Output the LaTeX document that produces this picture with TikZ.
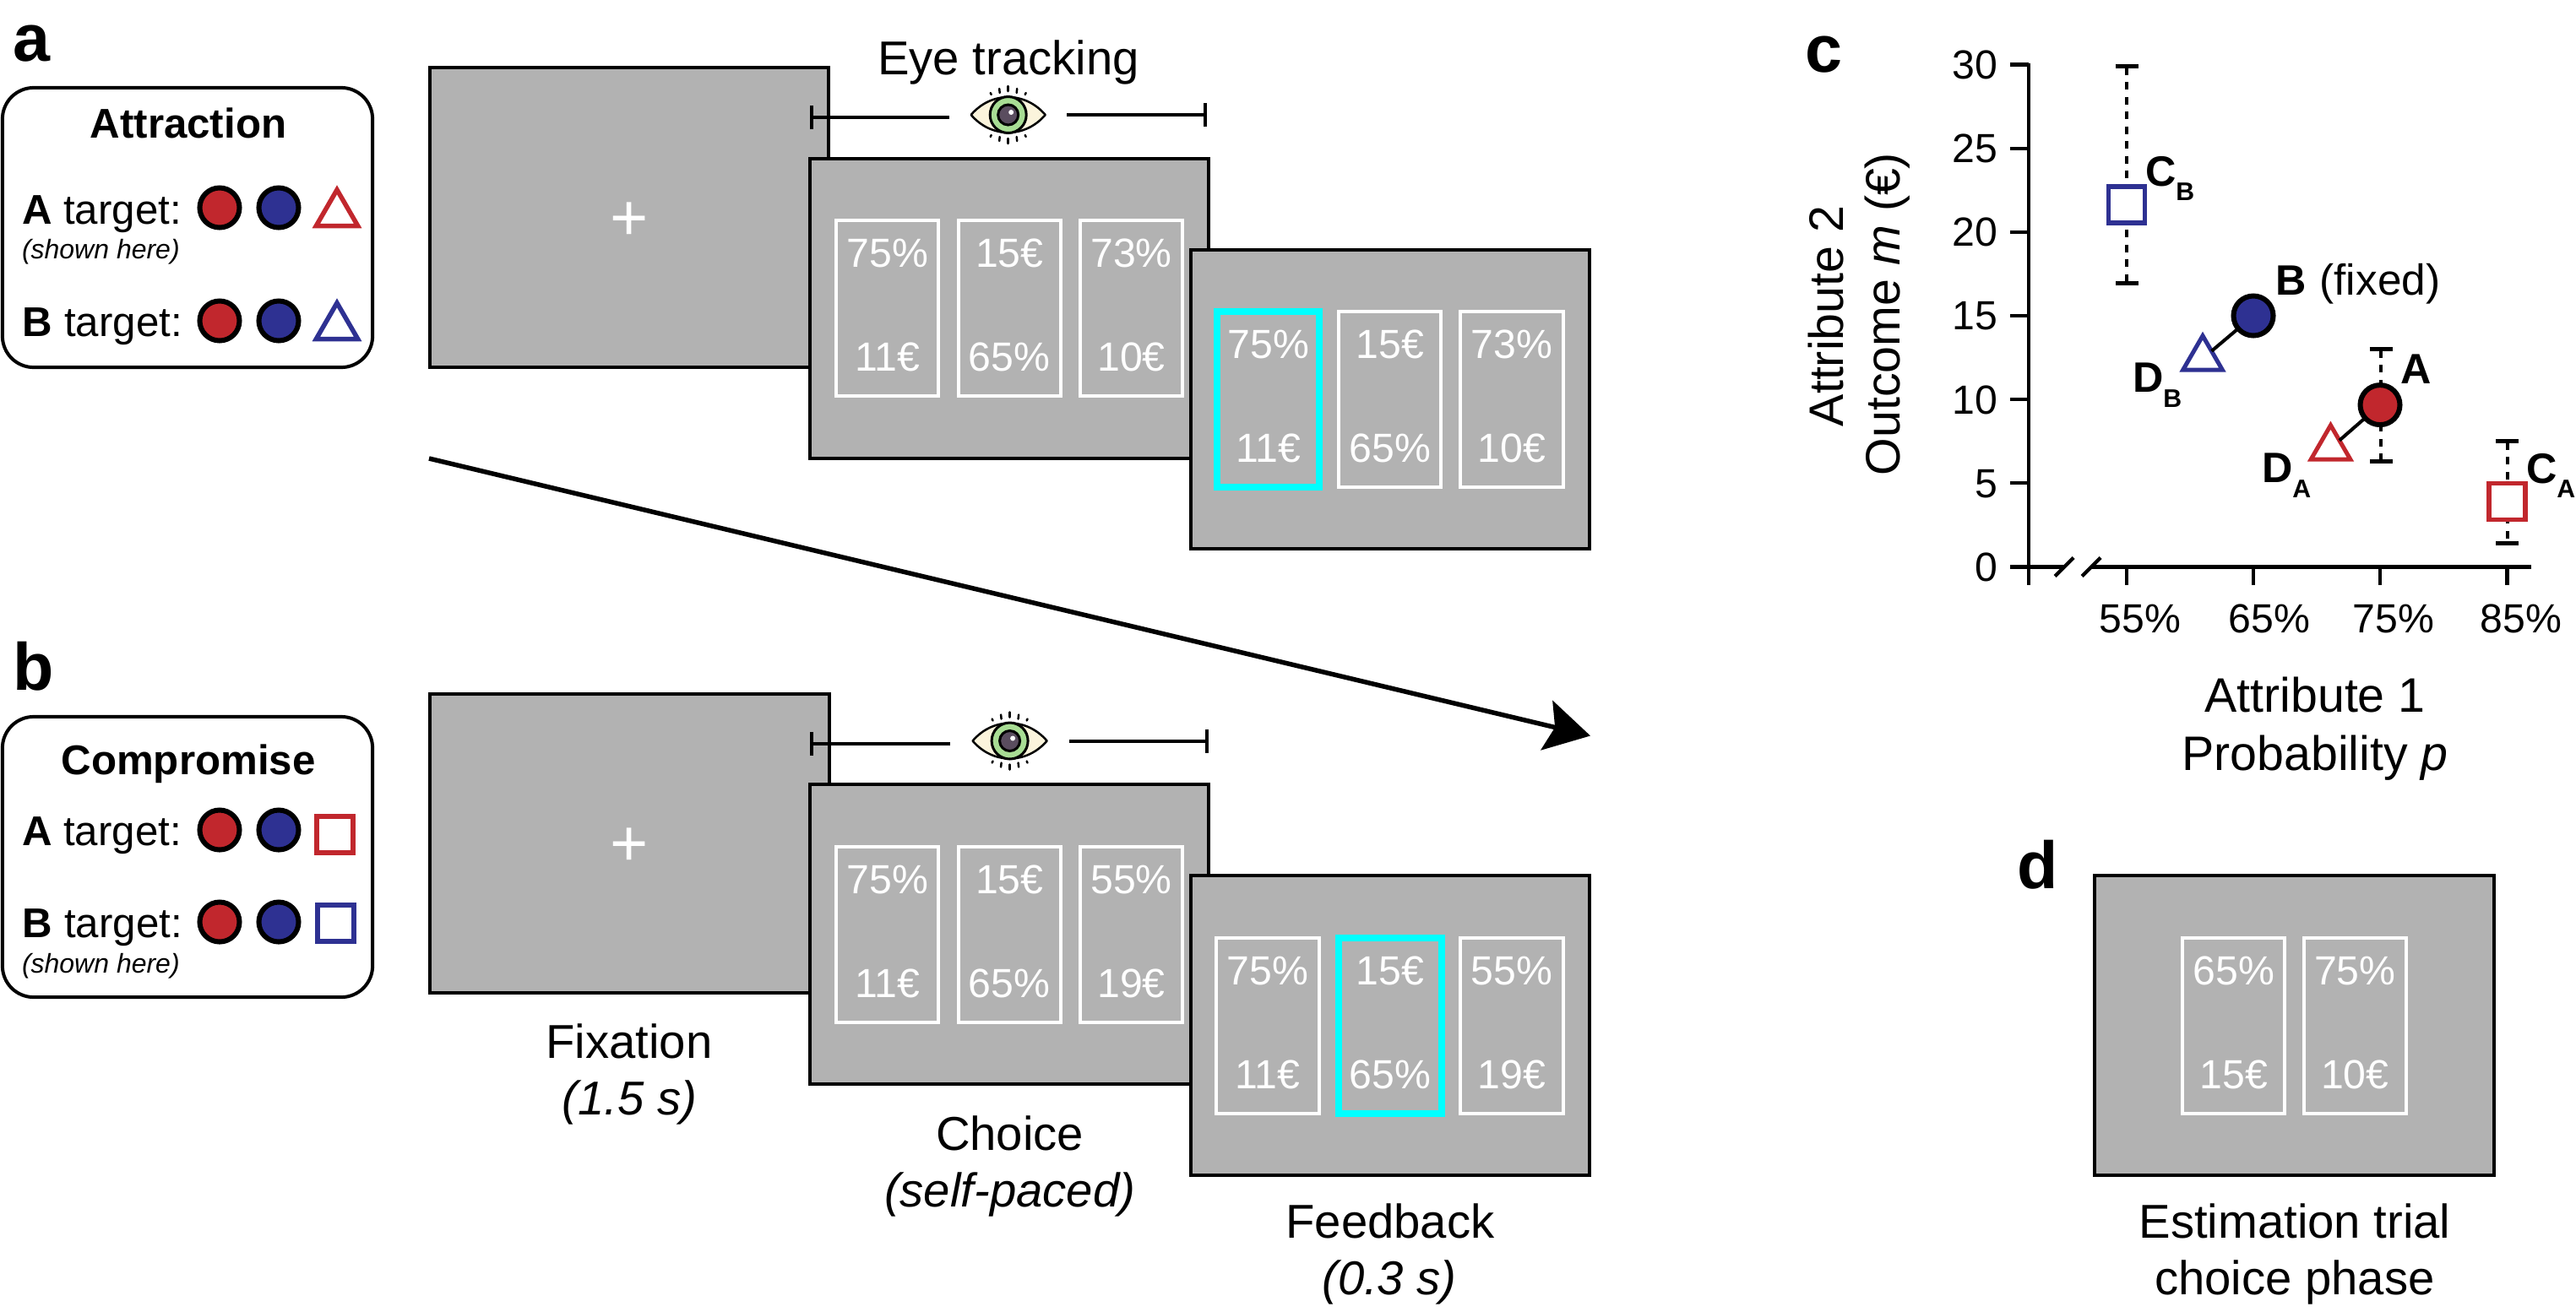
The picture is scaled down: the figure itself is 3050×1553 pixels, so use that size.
\documentclass[tikz,border=0pt]{standalone}
\usepackage{fontspec}
\setmainfont{Liberation Sans}
\usetikzlibrary{shapes.geometric,arrows.meta}
\definecolor{scr}{HTML}{B2B2B2}
\definecolor{myred}{HTML}{C1272D}
\definecolor{myblue}{HTML}{2E3192}
\definecolor{mycyan}{HTML}{00FFFF}
\definecolor{sclera}{HTML}{FBF4DC}
\definecolor{iris}{HTML}{A8DD94}
\definecolor{pupil}{HTML}{5A4D5F}
\newcommand{\sz}[1]{\fontsize{#1}{#1}\selectfont}
\tikzset{
 txt/.style={inner sep=0,outer sep=0},
 tiletxt/.style={txt,anchor=base,text=white,font=\sz{13.7}},
 captxt/.style={txt,anchor=base,font=\sz{16}},
 panel/.style={txt,anchor=base west,font=\sz{22.5}\bfseries},
 ltxt/.style={txt,anchor=base west,font=\sz{14}},
 smalltxt/.style={txt,anchor=base west,font=\sz{9.1}\itshape},
 ticktxt/.style={txt,font=\sz{13.7}},
 marktxt/.style={txt,anchor=base west,font=\sz{14.3}},
 axlabel/.style={txt,anchor=base,font=\sz{16.3}},
 screenbox/.style={draw=black,fill=scr,line width=.04cm,minimum width=4.72cm,minimum height=3.545cm,inner sep=0,outer sep=0},
 tilebox/.style={draw=white,line width=.04cm,minimum width=1.21cm,minimum height=2.08cm,inner sep=0,outer sep=0},
 hitbox/.style={tilebox,draw=mycyan,line width=.08cm},
 legbox/.style={draw=black,fill=white,line width=.04cm,rounded corners=.37cm,minimum width=4.38cm,inner sep=0,outer sep=0},
 dot/.style={circle,draw=black,fill=#1,line width=.06cm,minimum size=.47cm,inner sep=0,outer sep=0},
 tri/.style={regular polygon,regular polygon sides=3,draw=#1,fill=white,line width=.055cm,minimum size=.57cm,inner sep=0,outer sep=0},
 ctri/.style={regular polygon,regular polygon sides=3,draw=#1,fill=white,line width=.05cm,minimum size=.54cm,inner sep=0,outer sep=0},
 sq/.style={rectangle,draw=#1,fill=white,line width=.06cm,minimum size=.43cm,inner sep=0,outer sep=0},
 csq/.style={rectangle,draw=#1,fill=white,line width=.055cm,minimum size=.43cm,inner sep=0,outer sep=0},
 track/.style={line width=.04cm,{Bar[width=.28cm,line width=.04cm]}-},
 axisline/.style={line width=.042cm},
 errbar/.style={line width=.04cm,dash pattern=on .09cm off .085cm,{Bar[width=.27cm,line width=.05cm]}-{Bar[width=.27cm,line width=.05cm]}},
 link/.style={line width=.04cm},
 ray/.style={line width=.025cm,line cap=round}
}
% name, centre x, outer top, upper text, lower text, box style
\newcommand{\tile}[6]{%
 \node[#6] (#1) at (#2,#3+106) {};
 \node[tiletxt] (#1u) at (#2,#3+57.5) {#4};
 \node[tiletxt] (#1l) at (#2,#3+180.5) {#5};
}
\newcommand{\eyeicon}[2]{%
 \begin{scope}[shift={(#1,#2)}]
  \filldraw[fill=sclera,draw=black,line width=.025cm,line join=round] (-44,0) .. controls (-20,-28) and (20,-28) .. (44,0) .. controls (20,28) and (-20,28) .. cycle;
  \filldraw[fill=iris,draw=black,line width=.03cm] (0,0) circle (21.5);
  \filldraw[fill=pupil,draw=black,line width=.03cm] (0,0) circle (12);
  \fill[white] (3.5,-3) circle (3);
  \foreach \px/\a/\b in {0/28/34,-10/26/31,10/26/31,-20/24/26,20/24/26}{
   \draw[ray] (\px,-\a) -- (\px*1.05,-\b);
   \draw[ray] (\px,\a) -- (\px*1.05,\b);
  }
 \end{scope}
}
\begin{document}
\begin{tikzpicture}[x=0.01cm,y=-0.01cm]
\useasboundingbox (0,0) rectangle (3050,1553);
% panel letters
\node[panel] (la) at (15,72) {a};
\node[panel] (lb) at (15,817) {b};
\node[panel] (lc) at (2137,85) {c};
\node[panel] (ld) at (2388,1052) {d};
% legend a
\node[legbox,minimum height=3.31cm] (boxA) at (222,269.5) {};
\node[ltxt,anchor=base,font=\sz{14}\bfseries] (titA) at (223,163) {Attraction};
\node[ltxt] (aAt) at (26,265) {\textbf{A} target:};
\node[smalltxt] (aSh) at (26,306) {(shown here)};
\node[ltxt] (aBt) at (27,398) {\textbf{B} target:};
\node[dot=myred] (a1) at (260,246) {};
\node[dot=myblue] (a2) at (330,246) {};
\node[tri=myred] (a3) at (399,253.3) {};
\node[dot=myred] (a4) at (260,380) {};
\node[dot=myblue] (a5) at (330,380) {};
\node[tri=myblue] (a6) at (399,387.3) {};
% legend b
\node[legbox,minimum height=3.32cm] (boxB) at (222,1015) {};
\node[ltxt,anchor=base,font=\sz{14}\bfseries] (titB) at (223,917) {Compromise};
\node[ltxt] (bAt) at (26,1001.7) {\textbf{A} target:};
\node[ltxt] (bBt) at (27,1110) {\textbf{B} target:};
\node[smalltxt] (bSh) at (26,1152) {(shown here)};
\node[dot=myred] (b1) at (260,983) {};
\node[dot=myblue] (b2) at (330,983) {};
\node[sq=myred] (b3) at (396.7,988.5) {};
\node[dot=myred] (b4) at (260,1092) {};
\node[dot=myblue] (b5) at (330,1092) {};
\node[sq=myblue] (b6) at (397.7,1093) {};
% trial a
\node[screenbox] (fixA) at (744.75,257.5) {};
\node[txt,text=white,font=\sz{22}] (plusA) at (745,262) {+};
\node[captxt] (eyeT) at (1194,88.3) {Eye tracking};
\coordinate (trAl) at (958.5,139);
\coordinate (trAm) at (1124,139);
\coordinate (trAr) at (1429,136);
\coordinate (trAn) at (1263.4,136);
\draw[track] (trAl) -- (trAm);
\draw[track] (trAr) -- (trAn);
\eyeicon{1193.7}{136}
\node[screenbox] (choA) at (1195.25,365.25) {};
\tile{a1t}{1050.8}{259.3}{75\%}{11€}{tilebox}
\tile{a2t}{1195.2}{259.3}{15€}{65\%}{tilebox}
\tile{a3t}{1339.5}{259.3}{73\%}{10€}{tilebox}
\node[screenbox] (fbA) at (1645.75,473) {};
\tile{a4t}{1501.8}{367.3}{75\%}{11€}{hitbox}
\tile{a5t}{1645.8}{367.3}{15€}{65\%}{tilebox}
\tile{a6t}{1790}{367.3}{73\%}{10€}{tilebox}
% long arrow
\coordinate (arrS) at (508,543);
\coordinate (arrE) at (1883,871.5);
\draw[line width=.055cm,-{Stealth[length=.53cm,width=.6cm,inset=.1cm]}] (arrS) -- (arrE);
% trial b
\begin{scope}[shift={(0,741.5)}]
\node[screenbox] (fixB) at (745.5,257.5) {};
\node[txt,text=white,font=\sz{22}] (plusB) at (745,262) {+};
\coordinate (trBl) at (959,139);
\coordinate (trBm) at (1125,139);
\coordinate (trBr) at (1431,136);
\coordinate (trBn) at (1265.6,136);
\draw[track] (trBl) -- (trBm);
\draw[track] (trBr) -- (trBn);
\eyeicon{1195.6}{136}
\node[screenbox] (choB) at (1195.25,365.25) {};
\tile{b1t}{1050.8}{259.3}{75\%}{11€}{tilebox}
\tile{b2t}{1195.2}{259.3}{15€}{65\%}{tilebox}
\tile{b3t}{1339.5}{259.3}{55\%}{19€}{tilebox}
\node[screenbox] (fbB) at (1645.75,473) {};
\tile{b4t}{1501}{367.3}{75\%}{11€}{tilebox}
\tile{b5t}{1646}{367.3}{15€}{65\%}{hitbox}
\tile{b6t}{1790}{367.3}{55\%}{19€}{tilebox}
\end{scope}
% captions
\node[captxt] (c1) at (745,1253.8) {Fixation};
\node[captxt,font=\sz{16}\itshape] (c2) at (745.6,1320) {(1.5 s)};
\node[captxt] (c3) at (1195.6,1362) {Choice};
\node[captxt,font=\sz{16}\itshape] (c4) at (1195.6,1429.7) {(self-paced)};
\node[captxt] (c5) at (1646,1466) {Feedback};
\node[captxt,font=\sz{16}\itshape] (c6) at (1645,1533.6) {(0.3 s)};
% panel d
\node[screenbox] (scrD) at (2716.5,1214.65) {};
\tile{d1t}{2644.7}{1109}{65\%}{15€}{tilebox}
\tile{d2t}{2788.2}{1109}{75\%}{10€}{tilebox}
\node[captxt] (c7) at (2717,1466) {Estimation trial};
\node[captxt] (c8) at (2717,1533.6) {choice phase};
% panel c axes
\coordinate (yTop) at (2402,74.5);
\coordinate (yBot) at (2402,693);
\draw[axisline] (yTop) -- (yBot);
\foreach \v/\t in {0/0,5/5,10/10,15/15,20/20,25/25,30/30}{
 \draw[axisline] (2380,671.4-\v*19.83) -- (2402,671.4-\v*19.83);
 \node[ticktxt,anchor=base east] (yt\v) at (2365.5,688.4-\v*19.83) {\t};
}
\draw[axisline] (2380,671.4) -- (2445,671.4);
\draw[axisline] (2475,671.4) -- (2997,671.4);
\draw[axisline] (2433,682.5) -- (2455,660.5);
\draw[axisline] (2465,682.5) -- (2487,660.5);
\foreach \x/\l/\tx in {2518/55/2534,2668/65/2687,2818/75/2834,2968.5/85/2985}{
 \draw[axisline] (\x,671.4) -- (\x,693);
 \node[ticktxt,anchor=base] (xt\l) at (\tx,749) {\l\%};
}
\node[axlabel,rotate=90] (ya1) at (2182,374.5) {Attribute 2};
\node[axlabel,rotate=90] (ya2) at (2249,372) {Outcome \textit{m} (€)};
\node[axlabel] (xa1) at (2741,843) {Attribute 1};
\node[axlabel] (xa2) at (2741,912) {Probability \textit{p}};
% error bars
\coordinate (ebCBt) at (2518,76);
\coordinate (ebCBb) at (2518,338);
\coordinate (ebAt) at (2819,411);
\coordinate (ebAb) at (2819,549);
\coordinate (ebCAt) at (2968.5,520);
\coordinate (ebCAb) at (2968.5,646);
\draw[errbar] (ebCBt) -- (ebCBb);
\draw[errbar] (ebAt) -- (ebAb);
\draw[errbar] (ebCAt) -- (ebCAb);
% markers
\node[csq=myblue] (CB) at (2518,242.6) {};
\node[csq=myred] (CA) at (2968.5,594) {};
\node[dot=myblue] (B) at (2668,374) {};
\node[dot=myred] (A) at (2818,479.6) {};
\node[ctri=myblue] (DB) at (2608,424.7) {};
\node[ctri=myred] (DA) at (2759.5,530.7) {};
\draw[link] (B) -- (DB);
\draw[link] (A) -- (DA);
% marker labels
\node[marktxt] (lCB) at (2540,220.4) {\textbf{C}\raisebox{-.17cm}{\sz{8.6}\bfseries B}};
\node[marktxt] (lB) at (2694,349.5) {\textbf{B}\kern.02cm{\sz{14.6} (fixed)}};
\node[marktxt] (lDB) at (2525,464) {\textbf{D}\raisebox{-.18cm}{\sz{8.6}\bfseries B}};
\node[marktxt] (lA) at (2842,454) {\textbf{A}};
\node[marktxt] (lDA) at (2678,571.4) {\textbf{D}\raisebox{-.18cm}{\sz{8.6}\bfseries A}};
\node[marktxt] (lCA) at (2991,572.4) {\textbf{C}\raisebox{-.17cm}{\sz{8.6}\bfseries A}};
\end{tikzpicture}
\end{document}
